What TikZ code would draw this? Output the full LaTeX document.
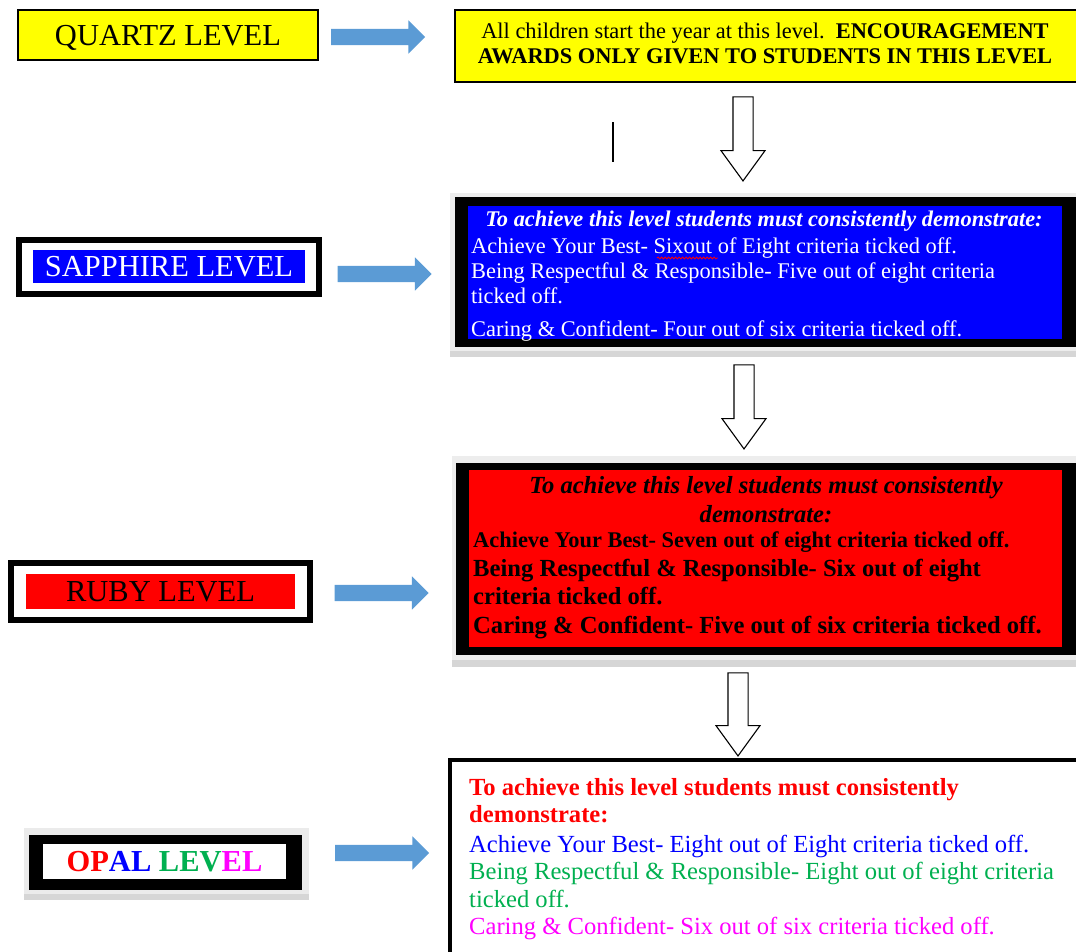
\documentclass[tikz,border=0pt]{standalone}
\usepackage{fontspec}
\setmainfont{Liberation Serif}
\usetikzlibrary{shapes.arrows, decorations.pathmorphing}
\definecolor{qyellow}{HTML}{FFFF00}
\definecolor{sblue}{HTML}{0000FF}
\definecolor{rred}{HTML}{FF0000}
\definecolor{ogreen}{HTML}{00B050}
\definecolor{omagenta}{HTML}{FF00FF}
\definecolor{arrowblue}{HTML}{5B9BD5}
\begin{document}
\begin{tikzpicture}[x=1pt,y=-1pt,
  lvbox/.style={draw=black, line width=2pt, inner sep=0pt, font=\fontsize{30.5}{34}\selectfont},
  lvfill/.style={inner sep=0pt, font=\fontsize{30.5}{34}\selectfont},
  boxfill/.style={inner sep=0pt},
  txtl/.style={anchor=base west, inner sep=0pt},
  txtc/.style={anchor=base, inner sep=0pt},
  fsmall/.style={font=\fontsize{22.4}{25}\selectfont},
  fbig/.style={font=\fontsize{24.6}{28}\selectfont},
  bluearrow/.style={single arrow, fill=arrowblue, inner xsep=0pt, inner ysep=8pt,
    single arrow head extend=8.5pt, minimum height=94pt},
  downarrow/.style={single arrow, draw=black, fill=white, line width=1.1pt, inner xsep=0pt,
    inner ysep=9.5pt, single arrow head extend=12pt, single arrow tip angle=72,
    minimum height=84pt, rotate=-90}]
\useasboundingbox (0,0) rectangle (1076,951);

% quartz
\node[lvbox, fill=qyellow, minimum width=300pt, minimum height=50pt, text depth=-2pt] (lv0) at (168,35) {QUARTZ LEVEL};
\node[draw=black, line width=2pt, fill=qyellow, minimum width=625pt, minimum height=72pt] (dsc0) at (767.5,46) {};
\node[txtc, fsmall] (dsc0a) at (765,38) {All children start the year at this level.\ \ \textbf{ENCOURAGEMENT}};
\node[txtc, fsmall] (dsc0b) at (765,63) {\textbf{AWARDS ONLY GIVEN TO STUDENTS IN THIS LEVEL}};
\node[bluearrow] (ba0) at (374,37) {};
\draw[line width=1.3pt] (613,122) -- (613,162);
\node[downarrow] (da0) at (743,132) {};

% sapphire
\node[boxfill, draw=black, line width=6pt, fill=white, minimum width=300pt, minimum height=54pt] (lv1f) at (169,267) {};
\node[lvfill, fill=sblue, text=white, minimum width=272pt, minimum height=33pt] (lv1) at (169,266.5) {SAPPHIRE LEVEL};
\node[bluearrow] (ba1) at (380.5,274) {};
\fill[black!7] (450,193) rectangle (1076,357);
\fill[black!16] (450,351) rectangle (1076,357);
\node[boxfill, fill=black, minimum width=623pt, minimum height=150pt] (dsc1f) at (766.5,272) {};
\node[boxfill, fill=sblue, minimum width=594pt, minimum height=133pt] (dsc1) at (765,272.5) {};
\node[txtc, fsmall, text=white] (dsc1h) at (764,226) {\textbf{\textit{To achieve this level students must consistently demonstrate:}}};
\node[txtl, fsmall, text=white] (dsc1a) at (471,253) {Achieve Your Best- Sixout of Eight criteria ticked off.};
\draw[red, line width=0.8pt, decorate, decoration={snake, amplitude=1pt, segment length=3.5pt}] (657,258) -- (718,258);
\node[txtl, fsmall, text=white] (dsc1b) at (471,278) {Being Respectful \& Responsible- Five out of eight criteria};
\node[txtl, fsmall, text=white] (dsc1c) at (471,303) {ticked off.};
\node[txtl, fsmall, text=white] (dsc1d) at (471,336) {Caring \& Confident- Four out of six criteria ticked off.};
\node[downarrow] (da1) at (744,400) {};

% ruby
\node[boxfill, draw=black, line width=6pt, fill=white, minimum width=299pt, minimum height=57pt] (lv2f) at (160.5,591.5) {};
\node[lvfill, fill=rred, minimum width=269pt, minimum height=35pt] (lv2) at (160.5,591.5) {RUBY LEVEL};
\node[bluearrow] (ba2) at (377.5,593) {};
\fill[black!7] (452,456) rectangle (1076,667);
\fill[black!16] (452,660) rectangle (1076,667);
\node[boxfill, fill=black, minimum width=622pt, minimum height=192pt] (dsc2f) at (767,559) {};
\node[boxfill, fill=rred, minimum width=593pt, minimum height=177pt] (dsc2) at (765.5,558.5) {};
\node[txtc, fbig] (dsc2h) at (766,493) {\textbf{\textit{To achieve this level students must consistently}}};
\node[txtc, fbig] (dsc2i) at (766,522) {\textbf{\textit{demonstrate:}}};
\node[txtl, fsmall] (dsc2a) at (473,547) {\textbf{Achieve Your Best- Seven out of eight criteria ticked off.}};
\node[txtl, fbig] (dsc2b) at (473,576) {\textbf{Being Respectful \& Responsible- Six out of eight}};
\node[txtl, fbig] (dsc2c) at (473,604) {\textbf{criteria ticked off.}};
\node[txtl, fbig] (dsc2d) at (473,633) {\textbf{Caring \& Confident- Five out of six criteria ticked off.}};
\node[downarrow, minimum height=83pt] (da2) at (738,707.5) {};

% opal
\fill[black!8] (24,828) rectangle (309,900);
\fill[black!16] (24,894) rectangle (309,900);
\node[boxfill, fill=black, minimum width=273pt, minimum height=55pt] (lv3f) at (165.5,862.5) {};
\node[lvfill, fill=white, minimum width=243pt, minimum height=35pt] (lv3) at (164.5,861.5)
  {\textbf{\textcolor{rred}{OP}\textcolor{sblue}{AL} \textcolor{ogreen}{LEV}\textcolor{omagenta}{EL}}};
\node[bluearrow] (ba3) at (378,853) {};
\node[boxfill, draw=black, line width=4pt, fill=white, minimum width=630pt, minimum height=195pt] (dsc3) at (765,857.5) {};
\node[txtl, fbig, text=rred] (dsc3h) at (469,795) {\textbf{To achieve this level students must consistently}};
\node[txtl, fbig, text=rred] (dsc3i) at (469,822) {\textbf{demonstrate:}};
\node[txtl, fbig, text=sblue] (dsc3a) at (469,852) {Achieve Your Best- Eight out of Eight criteria ticked off.};
\node[txtl, fbig, text=ogreen] (dsc3b) at (469,879) {Being Respectful \& Responsible- Eight out of eight criteria};
\node[txtl, fbig, text=ogreen] (dsc3c) at (469,907) {ticked off.};
\node[txtl, fbig, text=omagenta] (dsc3d) at (469,934) {Caring \& Confident- Six out of six criteria ticked off.};
\end{tikzpicture}
\end{document}
